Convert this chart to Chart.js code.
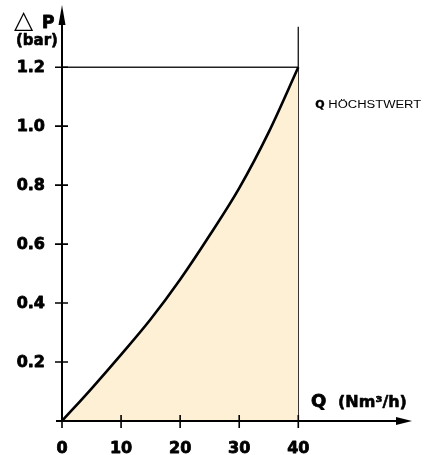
<!DOCTYPE html>
<html>
<head>
<meta charset="utf-8">
<script src="https://cdn.jsdelivr.net/npm/chart.js@4/dist/chart.umd.min.js"></script>
<style>
html,body{margin:0;padding:0;background:#fff;}
#wrap{width:424px;height:455px;position:relative;}
</style>
</head>
<body>
<div id="wrap"><canvas id="c" width="424" height="455"></canvas></div>
<script>
// ---- data ----
const flowQ = [0, 5, 10, 15, 20, 25, 30, 35, 40];           // Nm3/h
const deltaP = [0, 0.11, 0.225, 0.345, 0.48, 0.63, 0.79, 0.98, 1.2]; // bar
const xTicks = [0, 10, 20, 30, 40];
const yTicks = [0.2, 0.4, 0.6, 0.8, 1.0, 1.2];
const maxQ = [40];
const maxP = [1.2];
const refLineTop = [1.337];
const axisMax = { x: 59.25, y: 1.411 };
const yTitleSym = '△';
const yTitleVar = 'P';
const yTitleUnit = '(bar)';
const xTitleQ = 'Q';
const xTitleUnit = '(Nm³/h)';
const noteQ = 'Q';
const noteText = 'HÖCHSTWERT';

const BOLD = 'bold 16px "DejaVu Sans", sans-serif';

function heavyText(ctx, s, x, y, w) {
  ctx.lineWidth = w;
  ctx.lineJoin = 'round';
  ctx.strokeText(s, x, y);
  ctx.fillText(s, x, y);
}

const decor = {
  id: 'decor',
  afterDraw(chart) {
    const ctx = chart.ctx;
    const xs = chart.scales.x, ys = chart.scales.y;
    const x0 = xs.getPixelForValue(0), y0 = ys.getPixelForValue(0);
    const xEnd = xs.getPixelForValue(axisMax.x), yEnd = ys.getPixelForValue(axisMax.y);
    ctx.save();
    ctx.strokeStyle = '#000';
    ctx.fillStyle = '#000';
    // axes
    ctx.lineWidth = 2;
    ctx.beginPath();
    ctx.moveTo(x0, y0); ctx.lineTo(x0, yEnd + 12);
    ctx.moveTo(x0 - 6, y0); ctx.lineTo(xEnd - 10, y0);
    ctx.stroke();
    // y arrow
    ctx.beginPath();
    ctx.moveTo(x0, yEnd);
    ctx.lineTo(x0 + 3.5, yEnd + 20);
    ctx.lineTo(x0 - 3.5, yEnd + 20);
    ctx.closePath(); ctx.fill();
    // x arrow
    ctx.beginPath();
    ctx.moveTo(xEnd, y0);
    ctx.lineTo(xEnd - 16, y0 - 4);
    ctx.lineTo(xEnd - 16, y0 + 4);
    ctx.closePath(); ctx.fill();
    // ticks
    ctx.lineWidth = 1.6;
    ctx.beginPath();
    xTicks.forEach(v => {
      const px = xs.getPixelForValue(v);
      ctx.moveTo(px, y0 - 6); ctx.lineTo(px, y0 + 7);
    });
    yTicks.forEach(v => {
      const py = ys.getPixelForValue(v);
      ctx.moveTo(x0 - 7, py); ctx.lineTo(x0 + 6, py);
    });
    ctx.stroke();
    // tick labels
    ctx.font = BOLD;
    ctx.textAlign = 'center'; ctx.textBaseline = 'alphabetic';
    xTicks.forEach(v => {
      heavyText(ctx, String(v), xs.getPixelForValue(v), y0 + 32, 0.8);
    });
    ctx.textAlign = 'right'; ctx.textBaseline = 'middle';
    yTicks.forEach(v => {
      heavyText(ctx, v.toFixed(1), x0 - 17, ys.getPixelForValue(v) + 1, 0.8);
    });
    // y title
    ctx.textAlign = 'left'; ctx.textBaseline = 'alphabetic';
    ctx.font = '25px "DejaVu Sans", sans-serif';
    ctx.fillText(yTitleSym, 14, 28);
    ctx.font = 'bold 17px "DejaVu Sans", sans-serif';
    heavyText(ctx, yTitleVar, 42, 28, 0.8);
    ctx.font = 'bold 15px "DejaVu Sans", sans-serif';
    heavyText(ctx, yTitleUnit, 16, 45, 0.6);
    // x title
    ctx.font = 'bold 18px "DejaVu Sans", sans-serif';
    heavyText(ctx, xTitleQ, 311, 407, 0.8);
    ctx.font = BOLD;
    heavyText(ctx, xTitleUnit, 338, 407, 0.6);
    // note
    const nx = xs.getPixelForValue(maxQ[0]) + 17;
    ctx.font = 'bold 11px "DejaVu Sans", sans-serif';
    heavyText(ctx, noteQ, nx, 108, 0.4);
    ctx.save();
    ctx.translate(nx + 13, 108);
    ctx.scale(1.3, 1);
    ctx.font = '10px "Liberation Sans", Arial, sans-serif';
    ctx.fillText(noteText, 0, 0);
    ctx.restore();
    ctx.restore();
  }
};

new Chart(document.getElementById('c'), {
  type: 'line',
  data: {
    datasets: [
      {
        data: flowQ.map((q, i) => ({ x: q, y: deltaP[i] })),
        borderColor: '#000',
        borderWidth: 2.6,
        backgroundColor: '#fdf0d5',
        fill: 'origin',
        pointRadius: 0,
        cubicInterpolationMode: 'monotone'
      },
      {
        data: [{ x: maxQ[0], y: 0 }, { x: maxQ[0], y: refLineTop[0] }],
        borderColor: '#222',
        borderWidth: 1.4,
        pointRadius: 0,
        fill: false
      },
      {
        data: [{ x: 0, y: maxP[0] }, { x: maxQ[0], y: maxP[0] }],
        borderColor: '#222',
        borderWidth: 1.4,
        pointRadius: 0,
        fill: false
      }
    ]
  },
  options: {
    responsive: false,
    animation: false,
    devicePixelRatio: 1,
    layout: { padding: { left: 62, right: 12, top: 5, bottom: 34 } },
    plugins: { legend: { display: false }, tooltip: { enabled: false } },
    scales: {
      x: { type: 'linear', min: 0, max: axisMax.x, display: false },
      y: { type: 'linear', min: 0, max: axisMax.y, display: false }
    }
  },
  plugins: [decor]
});
</script>
</body>
</html>
